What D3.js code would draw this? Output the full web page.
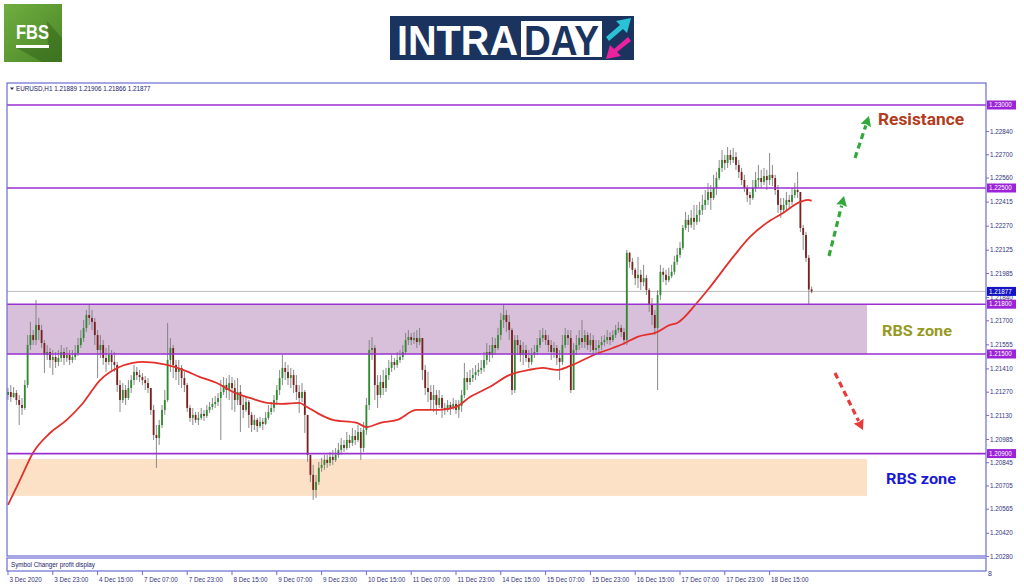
<!DOCTYPE html>
<html><head><meta charset="utf-8">
<script src="https://cdn.jsdelivr.net/npm/d3@7"></script>
<style>html,body{margin:0;padding:0;background:#fff;}svg{display:block;}</style>
</head><body>
<svg id="c" width="1024" height="587"></svg>
<script>
const firstOpen = 1.21253;
const closes = [
1.21271,1.21241,1.21265,1.21223,1.21193,1.21175,1.21313,1.21554,1.21614,1.21584,
1.21675,1.21644,1.21566,1.21494,1.21512,1.21464,1.21482,1.21452,1.21476,1.21512,
1.21476,1.21494,1.21464,1.21482,1.21506,1.21554,1.21596,1.21657,1.21735,1.21717,
1.21693,1.21614,1.21524,1.21554,1.21476,1.21452,1.21494,1.21452,1.21434,1.21313,
1.21223,1.21283,1.21235,1.21295,1.21343,1.21392,1.21373,1.21361,1.21343,1.21325,
1.21295,1.21163,1.21012,1.20994,1.21072,1.21163,1.21223,1.21464,1.21536,1.21434,
1.21392,1.21416,1.21355,1.21313,1.21175,1.21115,1.21133,1.21103,1.21115,1.21139,
1.21127,1.21163,1.21181,1.21199,1.21211,1.21235,1.21271,1.21313,1.21283,1.21325,
1.21295,1.21223,1.21271,1.21193,1.21163,1.21211,1.21133,1.21072,1.21103,1.21066,
1.21091,1.21079,1.21115,1.21151,1.21175,1.21223,1.21283,1.21355,1.21416,1.21392,
1.21355,1.21373,1.21313,1.21271,1.21235,1.21271,1.21133,1.20892,1.20772,1.20681,
1.20729,1.20814,1.20832,1.20862,1.20844,1.20880,1.20862,1.20892,1.20922,1.20952,
1.20934,1.20982,1.20964,1.21006,1.20982,1.21030,1.20934,1.21042,1.21193,1.21524,
1.21536,1.21313,1.21253,1.21331,1.21295,1.21373,1.21416,1.21452,1.21434,1.21464,
1.21482,1.21512,1.21584,1.21602,1.21584,1.21596,1.21572,1.21596,1.21404,1.21295,
1.21271,1.21223,1.21253,1.21193,1.21235,1.21175,1.21163,1.21193,1.21175,1.21199,
1.21163,1.21187,1.21253,1.21355,1.21331,1.21355,1.21373,1.21392,1.21404,1.21416,
1.21464,1.21512,1.21494,1.21554,1.21536,1.21614,1.21705,1.21735,1.21693,1.21644,
1.21283,1.21584,1.21554,1.21494,1.21524,1.21476,1.21452,1.21494,1.21512,1.21554,
1.21596,1.21614,1.21584,1.21554,1.21512,1.21536,1.21476,1.21452,1.21554,1.21614,
1.21596,1.21283,1.21524,1.21554,1.21596,1.21572,1.21614,1.21554,1.21584,1.21524,
1.21536,1.21554,1.21572,1.21584,1.21602,1.21584,1.21614,1.21644,1.21657,1.21632,
1.21584,1.22109,1.22055,1.22007,1.21957,1.21977,1.21933,1.21957,1.21885,1.21795,
1.21735,1.21657,1.21855,1.21995,1.21977,1.21945,1.21969,1.21995,1.22055,1.22097,
1.22139,1.22259,1.22308,1.22278,1.22320,1.22296,1.22338,1.22368,1.22398,1.22428,
1.22476,1.22440,1.22500,1.22560,1.22621,1.22669,1.22651,1.22699,1.22669,1.22687,
1.22639,1.22597,1.22548,1.22500,1.22458,1.22440,1.22500,1.22548,1.22560,1.22536,
1.22572,1.22548,1.22579,1.22560,1.22488,1.22398,1.22368,1.22398,1.22428,1.22416,
1.22458,1.22488,1.22476,1.22259,1.22217,1.22079,1.21889,1.21877];
const highs = [
1.21295,1.21313,1.21301,1.21283,1.21253,1.21235,1.21343,1.21614,1.21693,1.21644,
1.21825,1.21717,1.21675,1.21584,1.21554,1.21536,1.21524,1.21512,1.21524,1.21554,
1.21536,1.21542,1.21524,1.21524,1.21554,1.21596,1.21644,1.21705,1.21765,1.21795,
1.21765,1.21717,1.21644,1.21614,1.21584,1.21536,1.21554,1.21524,1.21512,1.21452,
1.21343,1.21325,1.21313,1.21343,1.21373,1.21434,1.21422,1.21404,1.21386,1.21367,
1.21355,1.21295,1.21193,1.21072,1.21103,1.21193,1.21283,1.21687,1.21596,1.21554,
1.21464,1.21464,1.21434,1.21392,1.21325,1.21193,1.21175,1.21151,1.21151,1.21175,
1.21163,1.21193,1.21211,1.21235,1.21247,1.21265,1.21343,1.21361,1.21355,1.21373,
1.21361,1.21343,1.21355,1.21313,1.21253,1.21247,1.21223,1.21151,1.21133,1.21115,
1.21121,1.21115,1.21151,1.21193,1.21211,1.21253,1.21313,1.21404,1.21494,1.21452,
1.21434,1.21416,1.21404,1.21373,1.21313,1.21325,1.21283,1.21042,1.20892,1.20832,
1.20771,1.20850,1.20874,1.20892,1.20892,1.20910,1.20922,1.20934,1.20964,1.20994,
1.20982,1.21030,1.21012,1.21054,1.21042,1.21072,1.21054,1.21091,1.21235,1.21584,
1.21602,1.21554,1.21373,1.21373,1.21404,1.21416,1.21464,1.21494,1.21476,1.21512,
1.21524,1.21554,1.21626,1.21644,1.21626,1.21632,1.21644,1.21657,1.21596,1.21434,
1.21392,1.21313,1.21313,1.21283,1.21283,1.21253,1.21205,1.21223,1.21211,1.21235,
1.21223,1.21223,1.21283,1.21446,1.21392,1.21404,1.21416,1.21434,1.21446,1.21464,
1.21512,1.21566,1.21554,1.21602,1.21596,1.21657,1.21747,1.21795,1.21765,1.21735,
1.21657,1.21614,1.21614,1.21584,1.21572,1.21554,1.21524,1.21536,1.21554,1.21596,
1.21644,1.21657,1.21644,1.21614,1.21584,1.21572,1.21554,1.21524,1.21614,1.21657,
1.21644,1.21644,1.21566,1.21614,1.21644,1.21705,1.21644,1.21632,1.21626,1.21614,
1.21584,1.21584,1.21608,1.21614,1.21644,1.21632,1.21644,1.21675,1.21693,1.21675,
1.21657,1.22127,1.22115,1.22079,1.22019,1.22085,1.22007,1.22037,1.21977,1.21897,
1.21837,1.21765,1.21885,1.22037,1.22019,1.22007,1.22019,1.22037,1.22091,1.22139,
1.22175,1.22277,1.22356,1.22338,1.22368,1.22398,1.22398,1.22416,1.22458,1.22488,
1.22530,1.22518,1.22579,1.22597,1.22669,1.22729,1.22699,1.22747,1.22729,1.22741,
1.22717,1.22669,1.22621,1.22579,1.22518,1.22476,1.22548,1.22597,1.22639,1.22609,
1.22621,1.22609,1.22711,1.22639,1.22579,1.22518,1.22440,1.22440,1.22476,1.22458,
1.22500,1.22530,1.22597,1.22356,1.22278,1.22235,1.22097,1.21906];
const lows = [
1.21223,1.21211,1.21235,1.21193,1.21072,1.21133,1.21163,1.21295,1.21524,1.21554,
1.21554,1.21584,1.21536,1.21386,1.21464,1.21416,1.21373,1.21416,1.21428,1.21452,
1.21434,1.21452,1.21434,1.21446,1.21464,1.21488,1.21536,1.21572,1.21632,1.21675,
1.21644,1.21554,1.21355,1.21476,1.21434,1.21392,1.21434,1.21404,1.21392,1.21271,
1.21151,1.21205,1.21193,1.21223,1.21265,1.21313,1.21343,1.21331,1.21313,1.21283,
1.21265,1.21133,1.20982,1.20814,1.20952,1.21054,1.21133,1.21211,1.21392,1.21355,
1.21343,1.21313,1.21295,1.21271,1.21151,1.21091,1.21072,1.21085,1.21072,1.21103,
1.21097,1.21115,1.21145,1.21163,1.21175,1.21187,1.20982,1.21253,1.21235,1.21223,
1.21163,1.21151,1.21193,1.21030,1.21115,1.21151,1.21054,1.21030,1.21042,1.21030,
1.21054,1.21042,1.21072,1.21103,1.21133,1.21151,1.21193,1.21253,1.21313,1.21343,
1.21313,1.21295,1.21265,1.21223,1.21145,1.21211,1.21024,1.20850,1.20729,1.20621,
1.20633,1.20711,1.20790,1.20802,1.20814,1.20826,1.20832,1.20850,1.20874,1.20892,
1.20910,1.20922,1.20934,1.20946,1.20952,1.20970,1.20862,1.20910,1.21012,1.21163,
1.21464,1.21223,1.21175,1.21235,1.21253,1.21271,1.21343,1.21392,1.21404,1.21416,
1.21446,1.21464,1.21494,1.21554,1.21554,1.21560,1.21536,1.21554,1.21343,1.21253,
1.21211,1.21163,1.21151,1.21133,1.21175,1.21115,1.21133,1.21151,1.21133,1.21163,
1.21139,1.21115,1.21151,1.21235,1.21283,1.21313,1.21331,1.21343,1.21367,1.21380,
1.21392,1.21434,1.21452,1.21476,1.21494,1.21524,1.21584,1.21657,1.21632,1.21584,
1.21253,1.21265,1.21494,1.21452,1.21434,1.21452,1.21416,1.21434,1.21476,1.21494,
1.21536,1.21572,1.21554,1.21512,1.21464,1.21476,1.21434,1.21343,1.21434,1.21536,
1.21554,1.21265,1.21283,1.21494,1.21524,1.21536,1.21536,1.21524,1.21512,1.21494,
1.21494,1.21506,1.21524,1.21548,1.21560,1.21554,1.21572,1.21596,1.21627,1.21602,
1.21554,1.21554,1.22019,1.21977,1.21915,1.21897,1.21885,1.21909,1.21855,1.21753,
1.21675,1.21614,1.21283,1.21825,1.21933,1.21915,1.21933,1.21957,1.21977,1.22037,
1.22079,1.22127,1.22247,1.22235,1.22259,1.22247,1.22278,1.22296,1.22338,1.22368,
1.22398,1.22368,1.22428,1.22458,1.22548,1.22597,1.22609,1.22621,1.22639,1.22651,
1.22609,1.22560,1.22518,1.22476,1.22416,1.22398,1.22428,1.22476,1.22500,1.22500,
1.22518,1.22488,1.22518,1.22512,1.22458,1.22350,1.22320,1.22350,1.22368,1.22380,
1.22398,1.22440,1.22440,1.22235,1.22127,1.22055,1.21795,1.21866];
const maIndex = [0,4.3,8.9,15,21,26.8,32.9,39,44.6,48,56.8,62.5,68.6,74.6,80.4,86.4,92.5,98,104,106.8,110.4,116,124.6,128,133,139,146,154,160,165,172,179,186,191,196,200.7,210,216,219.6,224.6,231.8,236.4,239,246,250.7,259,265,271,276.8,282.9,285.7,287];
const maValues = [1.20591,1.20741,1.20904,1.21024,1.21103,1.21205,1.21343,1.21416,1.21446,1.21452,1.21434,1.21404,1.21361,1.21325,1.21271,1.21235,1.21205,1.21199,1.21205,1.21181,1.21145,1.21103,1.21085,1.21060,1.21085,1.21103,1.21163,1.21163,1.21181,1.21241,1.21301,1.21373,1.21404,1.21416,1.21404,1.21428,1.21500,1.21536,1.21560,1.21602,1.21632,1.21675,1.21687,1.21807,1.21903,1.22085,1.22205,1.22290,1.22350,1.22416,1.22428,1.22422];
const dateLabels = ["3 Dec 2020","3 Dec 23:00","4 Dec 15:00","7 Dec 07:00","7 Dec 23:00","8 Dec 15:00","9 Dec 07:00","9 Dec 23:00","10 Dec 15:00","11 Dec 07:00","11 Dec 23:00","14 Dec 15:00","15 Dec 07:00","15 Dec 23:00","16 Dec 15:00","17 Dec 07:00","17 Dec 23:00","18 Dec 15:00"];
const barsPerLabel = 16;
const priceTicks = [1.22840,1.22700,1.22560,1.22415,1.22270,1.22125,1.21985,1.21840,1.21700,1.21555,1.21410,1.21270,1.21130,1.20985,1.20845,1.20705,1.20565,1.20420,1.20280];
const levels = [1.23000,1.22500,1.21800,1.21500,1.20900];
const currentPrice = 1.21877;
const zoneTops = [1.21800,1.20867];
const zoneBottoms = [1.21500,1.20645];
const zoneColors = ["#d8bfda","#fde1c6"];
const headerValues = ["1.21889","1.21906","1.21866","1.21877"];

const svg = d3.select("#c");
const L = 7, R = 986, T = 83, B = 556;
const x = d3.scaleLinear().domain([0, closes.length - 1]).range([8, 811.6]);
const y = d3.scaleLinear().domain([1.20280, 1.23000]).range([556.5, 105]);
const frameColor = "#6c6cd2";
const axisText = "#34347e";
const fontAxis = "'Liberation Sans', Arial, sans-serif";

// ---------- header logos ----------
const defs = svg.append("defs");
const g1 = defs.append("linearGradient").attr("id","fbsg").attr("x1",0).attr("y1",0).attr("x2",1).attr("y2",1);
g1.append("stop").attr("offset","0").attr("stop-color","#6fae40");
g1.append("stop").attr("offset","1").attr("stop-color","#4b8628");
svg.append("rect").attr("x",4).attr("y",4).attr("width",58).attr("height",58).attr("fill","url(#fbsg)");
svg.append("path").attr("d","M47,21 L62,38 L62,62 L42,62 L17,48 L48,48 Z").attr("fill","#2f5e16").attr("opacity",0.45);
svg.append("text").attr("x",16).attr("y",39).attr("font-family","'Liberation Sans Narrow','Liberation Sans',Arial,sans-serif")
  .attr("font-weight","bold").attr("font-size",21).attr("fill","#fff").attr("textLength",33).attr("lengthAdjust","spacingAndGlyphs").text("FBS");
svg.append("rect").attr("x",16).attr("y",45).attr("width",33).attr("height",3).attr("fill","#fff");

svg.append("rect").attr("x",390).attr("y",16).attr("width",244).attr("height",44).attr("fill","#1b335f");
svg.append("text").attr("x",397).attr("y",55).attr("font-family","'Liberation Sans Narrow','Liberation Sans',Arial,sans-serif")
  .attr("font-weight","bold").attr("font-size",42).attr("fill","#fff").attr("textLength",121).attr("lengthAdjust","spacingAndGlyphs").text("INTRA");
svg.append("rect").attr("x",521).attr("y",21).attr("width",81).attr("height",36).attr("fill","#fff");
svg.append("text").attr("x",524).attr("y",55).attr("font-family","'Liberation Sans Narrow','Liberation Sans',Arial,sans-serif")
  .attr("font-weight","bold").attr("font-size",42).attr("fill","#1b335f").attr("textLength",75).attr("lengthAdjust","spacingAndGlyphs").text("DAY");
svg.append("path").attr("d","M606,37 L609,41 L623,29 L627,33 L631,18 L616,21 L620,25 Z").attr("fill","#29c3d6");
svg.append("path").attr("d","M631,41 L628,37 L614,49 L610,45 L606,59 L621,56 L617,52 Z").attr("fill","#e922a0");

// ---------- chart frame ----------
const clip = defs.append("clipPath").attr("id","plot");
clip.append("rect").attr("x",L).attr("y",T).attr("width",R-L).attr("height",B-T);
const plot = svg.append("g").attr("clip-path","url(#plot)");

// zones
zoneTops.forEach((t,k) => {
  plot.append("rect").attr("x",L).attr("y",y(t)).attr("width",867-L).attr("height",y(zoneBottoms[k])-y(t)).attr("fill",zoneColors[k]);
});

// current price line
plot.append("line").attr("x1",L).attr("x2",R).attr("y1",y(currentPrice)).attr("y2",y(currentPrice)).attr("stroke","#bdbdbd").attr("stroke-width",1);

// candles
const candles = closes.map((c,i) => ({i, o: i ? closes[i-1] : firstOpen, h: highs[i], l: lows[i], c}));
plot.append("g").selectAll("line").data(candles).join("line")
  .attr("x1",d=>x(d.i)).attr("x2",d=>x(d.i))
  .attr("y1",d=>y(Math.max(d.h,d.o,d.c))).attr("y2",d=>y(Math.min(d.l,d.o,d.c)))
  .attr("stroke","#7d7d7d").attr("stroke-width",0.9);
plot.append("g").selectAll("rect").data(candles).join("rect")
  .attr("x",d=>x(d.i)-0.9).attr("width",1.8)
  .attr("y",d=>y(Math.max(d.o,d.c)))
  .attr("height",d=>Math.max(0.8, Math.abs(y(d.o)-y(d.c))))
  .attr("fill",d=>d.c>=d.o ? "#2f8a2f" : "#7a1e1e");

// moving average
const maPts = maIndex.map((v,k)=>({i:v, v:maValues[k]}));
plot.append("path").datum(maPts)
  .attr("d", d3.line().x(d=>x(d.i)).y(d=>y(d.v)).curve(d3.curveMonotoneX))
  .attr("fill","none").attr("stroke","#e2302a").attr("stroke-width",1.8);

// level lines
plot.append("g").selectAll("line").data(levels).join("line")
  .attr("x1",L).attr("x2",R).attr("y1",d=>y(d)).attr("y2",d=>y(d))
  .attr("stroke","#9a30d0").attr("stroke-width",1.6);

// frames
svg.append("rect").attr("x",L).attr("y",T).attr("width",R-L).attr("height",B-T).attr("fill","none").attr("stroke",frameColor).attr("stroke-width",1.2);
svg.append("rect").attr("x",L).attr("y",558).attr("width",R-L).attr("height",13).attr("fill","none").attr("stroke",frameColor).attr("stroke-width",1.2);

// header text
svg.append("path").attr("d","M10,87.5 L14,87.5 L12,90 Z").attr("fill","#22226a");
svg.append("text").attr("x",16).attr("y",91).attr("font-family",fontAxis).attr("font-size",6.3).attr("fill","#22226a")
  .text("EURUSD,H1  " + headerValues.join(" "));
svg.append("text").attr("x",11).attr("y",567).attr("font-family",fontAxis).attr("font-size",6.3).attr("fill","#22226a")
  .text("Symbol Changer profit display");

// right axis
const ra = svg.append("g");
ra.selectAll("line").data(priceTicks).join("line")
  .attr("x1",R).attr("x2",R+3).attr("y1",d=>y(d)).attr("y2",d=>y(d)).attr("stroke",frameColor);
ra.selectAll("text").data(priceTicks).join("text")
  .attr("x",R+4).attr("y",d=>y(d)+2.2).attr("font-family",fontAxis).attr("font-size",6.3).attr("fill",axisText)
  .text(d=>d3.format(".5f")(d));
const lvl = svg.append("g");
levels.forEach(v => {
  lvl.append("rect").attr("x",R+1).attr("y",y(v)-4.5).attr("width",29).attr("height",9).attr("fill","#9b22d8");
  lvl.append("text").attr("x",R+3).attr("y",y(v)+2.2).attr("font-family",fontAxis).attr("font-size",6.3).attr("fill","#fff").text(d3.format(".5f")(v));
});
lvl.append("rect").attr("x",R+1).attr("y",y(currentPrice)-4.5).attr("width",29).attr("height",9).attr("fill","#1414c4");
lvl.append("text").attr("x",R+3).attr("y",y(currentPrice)+2.2).attr("font-family",fontAxis).attr("font-size",6.3).attr("fill","#fff").text(d3.format(".5f")(currentPrice));
svg.append("text").attr("x",R+2).attr("y",576).attr("font-family",fontAxis).attr("font-size",7).attr("fill",axisText).text("8");

// bottom axis
const ba = svg.append("g");
ba.selectAll("line").data(dateLabels).join("line")
  .attr("x1",(d,k)=>x(k*barsPerLabel)).attr("x2",(d,k)=>x(k*barsPerLabel)).attr("y1",571).attr("y2",575).attr("stroke",frameColor);
ba.selectAll("text").data(dateLabels).join("text")
  .attr("x",(d,k)=>x(k*barsPerLabel)+1.5).attr("y",581.5).attr("font-family",fontAxis).attr("font-size",6.3).attr("fill",axisText)
  .text(d=>d);

// annotations
const arrows = [
  {x1:855,y1:158,x2:869,y2:116,c:"#33a83a"},
  {x1:829,y1:256,x2:844,y2:196,c:"#33a83a"},
  {x1:835,y1:373,x2:863,y2:430,c:"#e83a3a"}
];
arrows.forEach(a => {
  const ang = Math.atan2(a.y2-a.y1, a.x2-a.x1);
  const hl = 10, hw = 5.5;
  const bx = a.x2 - hl*Math.cos(ang), by = a.y2 - hl*Math.sin(ang);
  svg.append("line").attr("x1",a.x1).attr("y1",a.y1).attr("x2",bx).attr("y2",by)
    .attr("stroke",a.c).attr("stroke-width",3.2).attr("stroke-dasharray","6,4");
  const px = -Math.sin(ang)*hw, py = Math.cos(ang)*hw;
  svg.append("path").attr("d",`M${a.x2},${a.y2} L${bx+px},${by+py} L${bx+0.4*Math.cos(ang)*hl*0.3},${by+0.4*Math.sin(ang)*hl*0.3} L${bx-px},${by-py} Z`).attr("fill",a.c);
});
const labFont = "Roboto, 'Liberation Sans', Arial, sans-serif";
svg.append("text").attr("x",878).attr("y",125).attr("font-family",labFont).attr("font-weight","bold").attr("font-size",16)
  .attr("fill","#b23c1c").attr("textLength",86).attr("lengthAdjust","spacingAndGlyphs").text("Resistance");
svg.append("text").attr("x",882).attr("y",336).attr("font-family",labFont).attr("font-weight","bold").attr("font-size",15)
  .attr("fill","#959a1e").attr("textLength",70).attr("lengthAdjust","spacingAndGlyphs").text("RBS zone");
svg.append("text").attr("x",886).attr("y",484).attr("font-family",labFont).attr("font-weight","bold").attr("font-size",15)
  .attr("fill","#1a1ad6").attr("textLength",70).attr("lengthAdjust","spacingAndGlyphs").text("RBS zone");
</script>
</body></html>
